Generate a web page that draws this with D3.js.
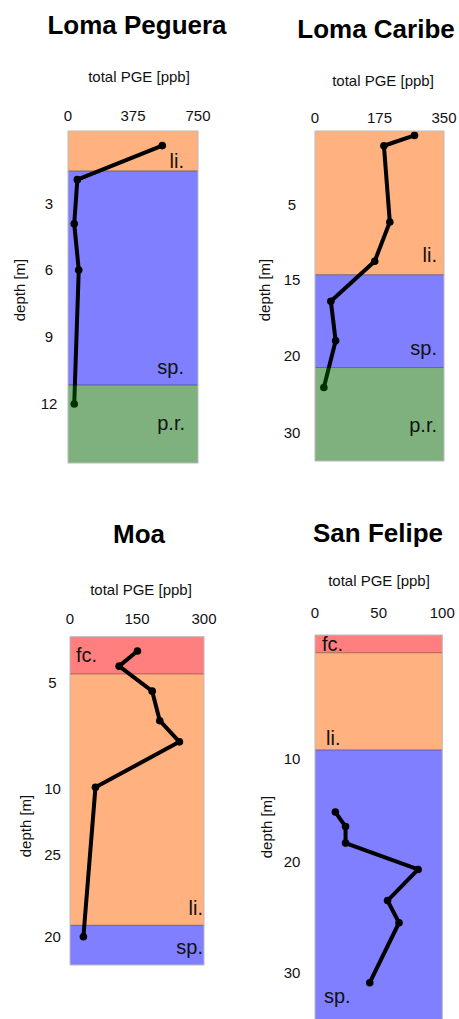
<!DOCTYPE html>
<html>
<head>
<meta charset="utf-8">
<script src="https://cdn.jsdelivr.net/npm/d3@7"></script>
<style>
  html, body { margin: 0; padding: 0; background: #fff; }
  svg { display: block; font-family: "Liberation Sans", Arial, sans-serif; }
</style>
</head>
<body>
<svg id="chart" width="459" height="1019"></svg>
<script>
// ---- data: total PGE profiles through four Cuban laterite sections ----
const siteNames = ["Loma Peguera", "Loma Caribe", "Moa", "San Felipe"];
const pgeMax = [750, 350, 300, 100];
const pgeTicks = [[0, 375, 750], [0, 175, 350], [0, 150, 300], [0, 50, 100]];
const depthTicks = [[3, 6, 9, 12], [5, 15, 20, 30], [5, 10, 15, 20], [10, 20, 30]];
const depthTickLabels = [["3", "6", "9", "12"], ["5", "15", "20", "30"], ["5", "10", "25", "20"], ["10", "20", "30"]];
const depthMax = [14.6, 33.6, 21.7, 34.5];

// sample depth [m] and total PGE [ppb]
const lomaPegueraDepth = [0.6, 2.0, 3.9, 6.0, 12.0];
const lomaPegueraPGE   = [544, 54, 36, 62, 36];
const lomaCaribeDepth  = [0.3, 1.0, 7.3, 12.5, 16.4, 19.0, 24.1];
const lomaCaribePGE    = [270, 187, 203, 162, 43, 56, 24];
const moaDepth         = [1.55, 3.2, 5.4, 6.8, 7.8, 9.95, 20.0];
const moaPGE           = [151, 110, 184, 201, 245, 57, 30];
const sanFelipeDepth   = [15.2, 16.6, 18.2, 20.7, 23.5, 25.5, 30.9];
const sanFelipePGE     = [16, 24, 24, 81, 57, 66, 43];

// lithological units: fc. ferricrete, li. limonite, sp. saprolite, p.r. parent rock
const lomaPegueraUnits = [["li.", 0, 1.64], ["sp.", 1.64, 11.15], ["p.r.", 11.15, 14.6]];
const lomaCaribeUnits  = [["li.", 0, 14.3], ["sp.", 14.3, 21.5], ["p.r.", 21.5, 33.6]];
const moaUnits         = [["fc.", 0, 4.05], ["li.", 4.05, 19.3], ["sp.", 19.3, 21.7]];
const sanFelipeUnits   = [["fc.", 0, 1.44], ["li.", 1.44, 9.32], ["sp.", 9.32, 34.5]];

const unitColor = { "fc.": "#ff0000", "li.": "#ff6600", "sp.": "#0000ff", "p.r.": "#006400" };

const panels = [
  { depth: lomaPegueraDepth, pge: lomaPegueraPGE, units: lomaPegueraUnits },
  { depth: lomaCaribeDepth,  pge: lomaCaribePGE,  units: lomaCaribeUnits },
  { depth: moaDepth,         pge: moaPGE,         units: moaUnits },
  { depth: sanFelipeDepth,   pge: sanFelipePGE,   units: sanFelipeUnits }
];

// ---- layout ----
const layout = [
  { x0: 68, x1: 198, yStops: [131, 204, 270, 337, 404, 463],
    titleX: 137, titleY: 34, axisX: 139, axisY: 82, xTickY: 121, yTickX: 49, depthX: 25, depthY: 290,
    unitLabels: { "li.": [184, 168, "end"], "sp.": [184, 374, "end"], "p.r.": [185, 430, "end"] } },
  { x0: 315, x1: 444, yStops: [131, 204.7, 280, 356, 433, 461],
    titleX: 376, titleY: 38, axisX: 383, axisY: 86, xTickY: 123, yTickX: 292, depthX: 270, depthY: 290,
    unitLabels: { "li.": [437, 262, "end"], "sp.": [437, 355, "end"], "p.r.": [437, 432, "end"] } },
  { x0: 70, x1: 204, yStops: [636.7, 682.7, 788.3, 855, 936.7, 965],
    titleX: 139, titleY: 543, axisX: 141, axisY: 595, xTickY: 624, yTickX: 52.5, depthX: 31, depthY: 826,
    unitLabels: { "fc.": [76, 662, "start"], "li.": [203, 915, "end"], "sp.": [203, 954, "end"] } },
  { x0: 315, x1: 442.3, yStops: [635, 758.3, 861.7, 972.7, 1022.7],
    titleX: 378, titleY: 542, axisX: 379, axisY: 586, xTickY: 618, yTickX: 292, depthX: 272, depthY: 827,
    unitLabels: { "fc.": [322, 651, "start"], "li.": [326, 745, "start"], "sp.": [324, 1003, "start"] } }
];

const svg = d3.select("#chart");

panels.forEach((p, i) => {
  const L = layout[i];
  const g = svg.append("g");

  const x = d3.scaleLinear().domain([0, pgeMax[i]]).range([L.x0, L.x1]);
  const y = d3.scaleLinear().domain([0, ...depthTicks[i], depthMax[i]]).range(L.yStops);

  // title and axis captions
  g.append("text").attr("x", L.titleX).attr("y", L.titleY)
    .attr("text-anchor", "middle").attr("font-size", 26).attr("font-weight", "bold")
    .attr("fill", "#000").text(siteNames[i]);
  g.append("text").attr("x", L.axisX).attr("y", L.axisY)
    .attr("text-anchor", "middle").attr("font-size", 15).attr("fill", "#111")
    .text("total PGE [ppb]");
  g.append("text").attr("transform", `translate(${L.depthX},${L.depthY}) rotate(-90)`)
    .attr("text-anchor", "middle").attr("font-size", 15).attr("fill", "#111")
    .text("depth [m]");

  // tick labels (no tick lines)
  g.selectAll(".xt").data(pgeTicks[i]).join("text")
    .attr("x", d => x(d)).attr("y", L.xTickY)
    .attr("text-anchor", "middle").attr("font-size", 15).attr("fill", "#111")
    .text(d => d);
  g.selectAll(".yt").data(depthTicks[i]).join("text")
    .attr("x", L.yTickX).attr("y", d => y(d)).attr("dy", "0.36em")
    .attr("text-anchor", "middle").attr("font-size", 15).attr("fill", "#111")
    .text((d, k) => depthTickLabels[i][k]);

  const units = p.units.map(u => ({ name: u[0], top: u[1], base: u[2] }));
  const drawUnit = sel => sel
    .attr("x", L.x0).attr("width", L.x1 - L.x0)
    .attr("y", d => y(d.top)).attr("height", d => y(d.base) - y(d.top))
    .attr("fill", d => unitColor[d.name]).attr("fill-opacity", 0.5);

  // weathering horizons below the profile line
  g.append("g").selectAll("rect").data(units.filter(u => u.name !== "p.r.")).join("rect").call(drawUnit);

  // profile line and samples
  const pts = p.depth.map((d, k) => ({ depth: d, pge: p.pge[k] }));
  g.append("path").datum(pts)
    .attr("d", d3.line().x(d => x(d.pge)).y(d => y(d.depth)))
    .attr("fill", "none").attr("stroke", "#000").attr("stroke-width", 4)
    .attr("stroke-linejoin", "round").attr("stroke-linecap", "round");
  g.append("g").selectAll("circle").data(pts).join("circle")
    .attr("cx", d => x(d.pge)).attr("cy", d => y(d.depth)).attr("r", 3.8).attr("fill", "#000");

  // parent rock is laid over the line as a translucent wash
  g.append("g").selectAll("rect").data(units.filter(u => u.name === "p.r.")).join("rect").call(drawUnit);

  // horizon contacts
  g.append("g").selectAll("line").data(units.slice(1)).join("line")
    .attr("x1", L.x0).attr("x2", L.x1)
    .attr("y1", d => y(d.top)).attr("y2", d => y(d.top))
    .attr("stroke", "#000").attr("stroke-opacity", 0.35).attr("stroke-width", 1);

  // column outline
  g.append("rect")
    .attr("x", L.x0).attr("y", y(0))
    .attr("width", L.x1 - L.x0).attr("height", y(depthMax[i]) - y(0))
    .attr("fill", "none").attr("stroke", "#bbb").attr("stroke-width", 1);

  // horizon names
  g.append("g").selectAll("text").data(units).join("text")
    .attr("x", d => L.unitLabels[d.name][0]).attr("y", d => L.unitLabels[d.name][1])
    .attr("text-anchor", d => L.unitLabels[d.name][2])
    .attr("font-size", 20).attr("fill", "#111")
    .text(d => d.name);
});
</script>
</body>
</html>
